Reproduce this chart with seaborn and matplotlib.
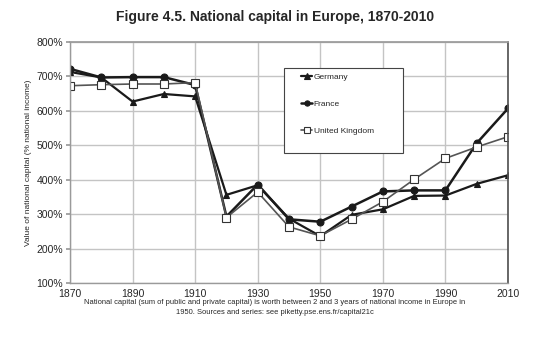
import matplotlib
matplotlib.use("Agg")
import matplotlib.pyplot as plt
import seaborn as sns
import pandas as pd
from matplotlib.patches import Rectangle

years = [1870, 1880, 1890, 1900, 1910, 1920, 1930, 1940, 1950, 1960, 1970, 1980, 1990, 2000, 2010]
germany = [713, 697, 627, 649, 642, 356, 384, 287, 236, 298, 314, 353, 354, 388, 413]
france = [722, 697, 698, 698, 675, 293, 386, 285, 278, 322, 366, 369, 369, 506, 607]
uk = [673, 676, 678, 678, 682, 290, 364, 263, 237, 285, 336, 401, 462, 495, 525]
series_names = ["Germany", "France", "United Kingdom"]
y_ticks = [100, 200, 300, 400, 500, 600, 700, 800]
x_ticks = [1870, 1890, 1910, 1930, 1950, 1970, 1990, 2010]

title = "Figure 4.5. National capital in Europe, 1870-2010"
ylabel = "Value of national capital (% national income)"
caption = ("National capital (sum of public and private capital) is worth between 2 and 3 years of national income in Europe in\n"
           "1950. Sources and series: see piketty.pse.ens.fr/capital21c")

sns.set_theme(style="white")
plt.rcParams['font.family'] = ['Liberation Sans', 'DejaVu Sans']

df = pd.DataFrame({
    "year": years * 3,
    "value": germany + france + uk,
    "series": [series_names[0]] * len(years) + [series_names[1]] * len(years) + [series_names[2]] * len(years),
})

fig = plt.figure(figsize=(5.36, 3.52), dpi=100)
ax = fig.add_axes([70 / 536, 1 - 283 / 352, 438 / 536, 241 / 352])

styles = {
    "Germany": dict(color="#1a1a1a", marker="^", markersize=5, lw=1.6, mfc="#1a1a1a", mec="#1a1a1a"),
    "France": dict(color="#1a1a1a", marker="o", markersize=5, lw=1.8, mfc="#1a1a1a", mec="#1a1a1a"),
    "United Kingdom": dict(color="#555555", marker="s", markersize=5.5, lw=1.2, mfc="white", mec="#333333"),
}
for name in series_names:
    st = styles[name]
    sub = df[df["series"] == name]
    sns.lineplot(data=sub, x="year", y="value", ax=ax, label=name, color=st["color"],
                 marker=st["marker"], markersize=st["markersize"], linewidth=st["lw"],
                 markerfacecolor=st["mfc"], markeredgecolor=st["mec"], markeredgewidth=0.8)

ax.set_xlim(1870, 2010)
ax.set_ylim(100, 800)
ax.set_xticks(x_ticks)
ax.set_yticks(y_ticks)
ax.set_xticklabels([str(x) for x in x_ticks], fontsize=7.5)
ax.set_yticklabels([f"{v}%" for v in y_ticks], fontsize=7.5)
ax.grid(True, color="#c4c4c4", lw=1.0)
ax.set_axisbelow(True)
for s in ["left", "bottom"]:
    ax.spines[s].set_color("#9a9a9a")
    ax.spines[s].set_linewidth(1.0)
ax.spines["top"].set_color("#9a9a9a")
ax.spines["right"].set_color("#555555")
ax.tick_params(axis="y", which="both", left=True, length=3, color="#9a9a9a", pad=2)
ax.tick_params(axis="x", length=0, pad=4)
ax.set_xlabel("")
ax.set_ylabel(ylabel, fontsize=6, labelpad=3)

# legend box
ax.add_patch(Rectangle((0.489, 0.539), 0.271, 0.353, transform=ax.transAxes,
                       facecolor="white", edgecolor="#444444", lw=0.8, zorder=5))
leg = ax.legend(loc="upper left", bbox_to_anchor=(0.52, 0.885), frameon=False,
                fontsize=6, handlelength=1.3, handletextpad=0.2, labelspacing=2.3,
                borderaxespad=0, markerscale=0.75)
leg.set_zorder(6)

fig.text(275 / 536, 1 - 17 / 352, title, ha="center", va="center", fontsize=10, fontweight="bold")
fig.text(275 / 536, 1 - 308 / 352, caption, ha="center", va="center", fontsize=5.4, linespacing=1.6)

fig.savefig("out.png", dpi=100, facecolor="white")
